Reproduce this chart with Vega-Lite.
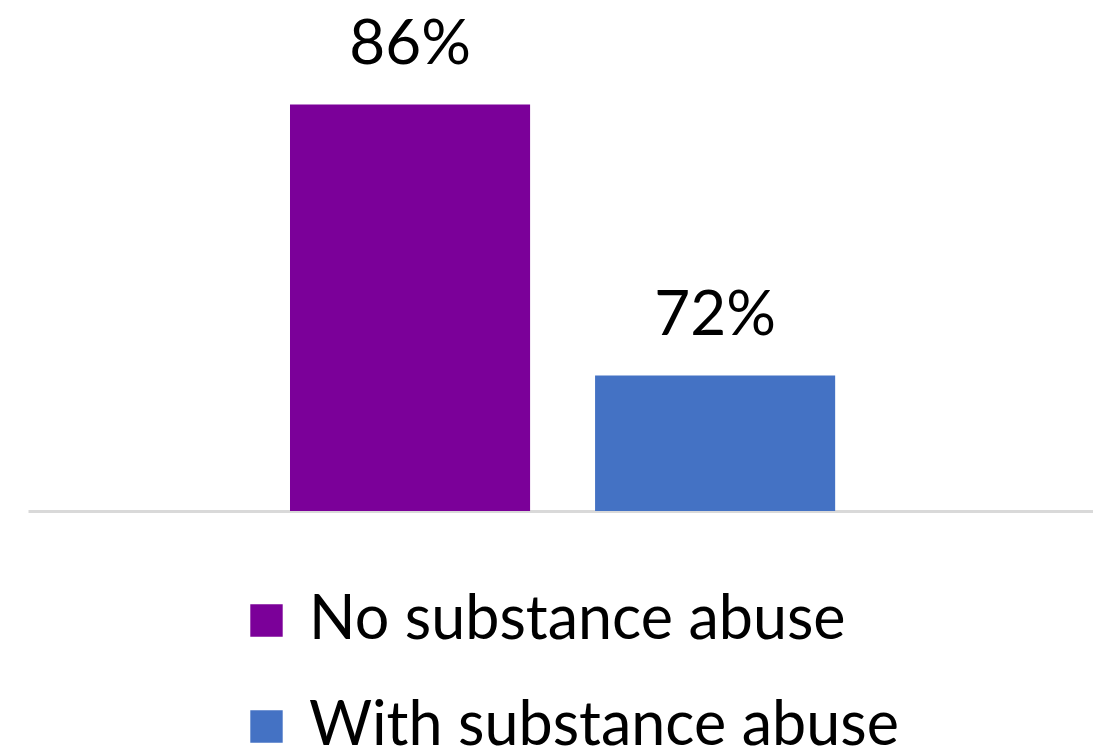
{
  "$schema": "https://vega.github.io/schema/vega-lite/v6.json",
  "autosize": {"type": "none"},
  "width": 1065,
  "height": 511,
  "padding": {"left": 28, "top": 0, "right": 0, "bottom": 239},
  "background": "white",
  "config": {"view": {"stroke": null}, "font": "Lato"},
  "data": {"values": [
    {"group": "No substance abuse", "value": 86, "label": "86%"},
    {"group": "With substance abuse", "value": 72, "label": "72%"}
  ]},
  "encoding": {
    "x": {"field": "group", "type": "nominal", "sort": null,
      "scale": {"paddingInner": 0.213, "paddingOuter": 0.852, "align": 0.504},
      "axis": {"title": null, "labels": false, "ticks": false, "domainColor": "#d9d9d9", "domainWidth": 3}},
    "y": {"field": "value", "type": "quantitative",
      "scale": {"domain": [65, 91.4], "zero": false, "clamp": false},
      "axis": null}
  },
  "layer": [
    {"mark": {"type": "bar", "clip": true},
     "encoding": {
       "y2": {"datum": 65},
       "color": {"field": "group", "type": "nominal", "sort": null,
         "scale": {"range": ["#7B0099", "#4472C4"]},
         "legend": {"title": null, "orient": "none", "legendX": 208, "legendY": 590,
           "padding": 0, "symbolType": "square", "symbolSize": 1050, "symbolStrokeWidth": 0,
           "labelFontSize": 61, "labelFont": "Lato", "labelColor": "black", "labelOffset": 12,
           "rowPadding": 44, "labelLimit": 1000, "symbolOpacity": 1}
       }}},
    {"mark": {"type": "text", "baseline": "alphabetic", "dy": -41, "fontSize": 62, "font": "Lato", "color": "black"},
     "encoding": {"text": {"field": "label"}}}
  ]
}
